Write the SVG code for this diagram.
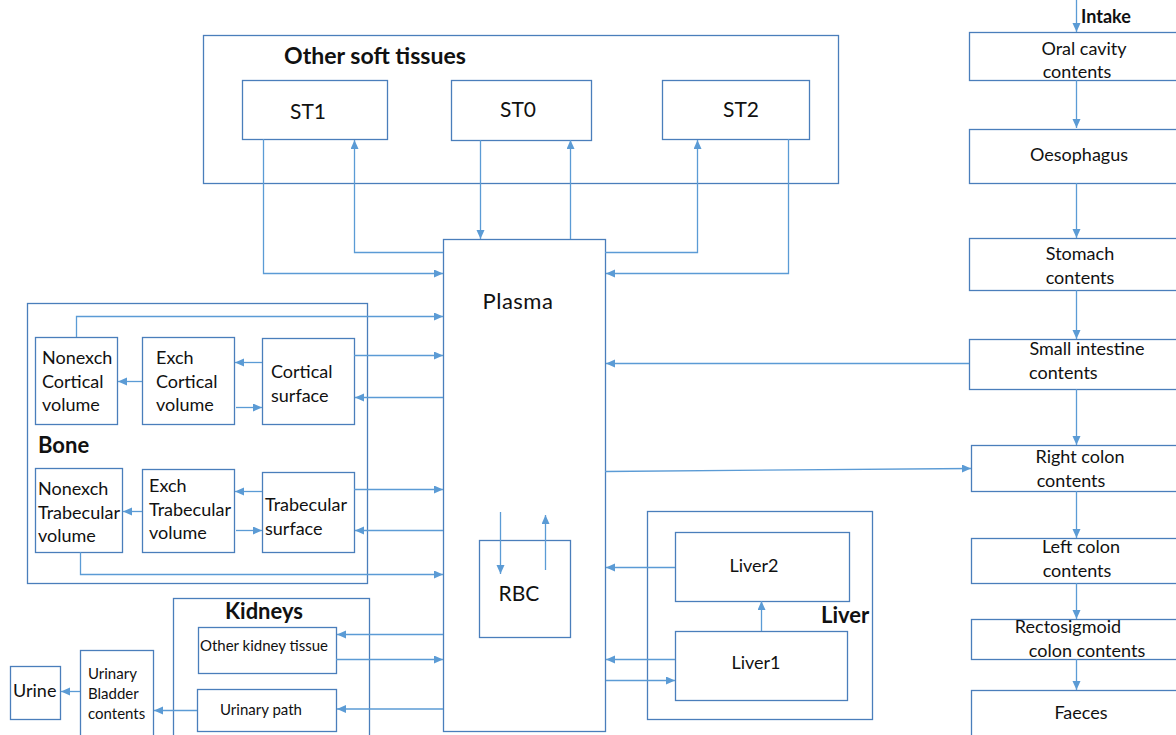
<svg xmlns="http://www.w3.org/2000/svg" width="1176" height="735" viewBox="0 0 1176 735">
<style>
.box{fill:#fff;stroke:#4a7ebb;stroke-width:1.3}
.grp{fill:none;stroke:#4a7ebb;stroke-width:1.3}
.c{fill:none;stroke:#5b9bd5;stroke-width:1.3;marker-end:url(#ah)}
text{font-family:Lato,"Liberation Sans",sans-serif;font-size:18px;fill:#111}
.b{font-weight:bold;font-size:22px}
.m{text-anchor:middle}
</style>
<defs>
<marker id="ah" markerUnits="userSpaceOnUse" markerWidth="10" markerHeight="10" refX="9" refY="4" orient="auto">
<path d="M0,0 L9,4 L0,8 Z" fill="#5b9bd5"/>
</marker>
</defs>
<rect width="1176" height="735" fill="#fff"/>

<g id="soft-tissues">
<rect class="grp" x="203.5" y="35.5" width="635" height="148"/>
<text class="b" x="284" y="64" textLength="182" lengthAdjust="spacingAndGlyphs">Other soft tissues</text>
</g>
<g id="st1"><rect class="box" x="242.5" y="80.5" width="145" height="59"/><text class="m" x="308" y="119" style="font-size:21px">ST1</text></g>
<g id="st0"><rect class="box" x="451.5" y="80.5" width="140" height="60"/><text class="m" x="518" y="117" style="font-size:21px">ST0</text></g>
<g id="st2"><rect class="box" x="662.5" y="80.5" width="147" height="59"/><text class="m" x="741" y="117" style="font-size:21px">ST2</text></g>

<g id="plasma"><rect class="box" x="443.5" y="239.5" width="162" height="492"/><text class="m" x="518" y="309" style="font-size:22px;letter-spacing:0.5px">Plasma</text></g>
<g id="rbc"><rect class="box" x="479.5" y="540.5" width="91" height="97"/><text class="m" x="519" y="601" style="font-size:21px">RBC</text></g>

<g id="bone">
<rect class="grp" x="27.5" y="303.5" width="340" height="280"/>
<text class="b" x="38" y="453">Bone</text>
</g>
<g id="nonexch-cortical"><rect class="box" x="35.5" y="337.5" width="82" height="87"/>
<text x="42" y="364">Nonexch</text><text x="42" y="388">Cortical</text><text x="42" y="411">volume</text></g>
<g id="exch-cortical"><rect class="box" x="142.5" y="337.5" width="92" height="87"/>
<text x="156" y="364">Exch</text><text x="156" y="388">Cortical</text><text x="156" y="411">volume</text></g>
<g id="cortical-surface"><rect class="box" x="262.5" y="338.5" width="92" height="86"/>
<text x="271" y="378">Cortical</text><text x="271" y="402">surface</text></g>
<g id="nonexch-trabecular"><rect class="box" x="35.5" y="468.5" width="87" height="84"/>
<text x="38" y="495">Nonexch</text><text x="38" y="519">Trabecular</text><text x="38" y="542">volume</text></g>
<g id="exch-trabecular"><rect class="box" x="142.5" y="469.5" width="92" height="83"/>
<text x="149" y="492">Exch</text><text x="149" y="516">Trabecular</text><text x="149" y="539">volume</text></g>
<g id="trabecular-surface"><rect class="box" x="262.5" y="472.5" width="92" height="80"/>
<text x="265" y="511">Trabecular</text><text x="265" y="535">surface</text></g>

<g id="kidneys">
<rect class="grp" x="173.5" y="598.5" width="196" height="140"/>
<text class="b m" x="264" y="619">Kidneys</text>
</g>
<g id="other-kidney"><rect class="box" x="198.5" y="627.5" width="138" height="46"/><text class="m" x="264" y="651" style="font-size:15px">Other kidney tissue</text></g>
<g id="urinary-path"><rect class="box" x="197.5" y="689.5" width="139" height="42"/><text class="m" x="261" y="715" style="font-size:15px">Urinary path</text></g>
<g id="bladder"><rect class="box" x="80.5" y="650.5" width="73" height="90"/>
<text x="88" y="679" style="font-size:15px">Urinary</text><text x="88" y="699" style="font-size:15px">Bladder</text><text x="88" y="719" style="font-size:15px">contents</text></g>
<g id="urine"><rect class="box" x="10.5" y="666.5" width="50" height="53"/><text x="13" y="697">Urine</text></g>

<g id="liver">
<rect class="grp" x="647.5" y="511.5" width="225" height="208"/>
<text class="b" x="821" y="623">Liver</text>
</g>
<g id="liver2"><rect class="box" x="675.5" y="532.5" width="174" height="69"/><text class="m" x="754" y="572">Liver2</text></g>
<g id="liver1"><rect class="box" x="675.5" y="631.5" width="172" height="69"/><text class="m" x="756" y="669">Liver1</text></g>

<g id="oral"><rect class="box" x="969.5" y="32.5" width="220" height="48"/><text class="m" x="1084" y="55">Oral cavity</text><text class="m" x="1077" y="78">contents</text></g>
<g id="oesophagus"><rect class="box" x="969.5" y="129.5" width="220" height="54"/><text class="m" x="1079" y="161">Oesophagus</text></g>
<g id="stomach"><rect class="box" x="969.5" y="238.5" width="220" height="52"/><text class="m" x="1080" y="260">Stomach</text><text class="m" x="1080" y="284">contents</text></g>
<g id="small-intestine"><rect class="box" x="969.5" y="339.5" width="220" height="50"/><text class="m" x="1087" y="355">Small intestine</text><text x="1029" y="379">contents</text></g>
<g id="right-colon"><rect class="box" x="971.5" y="445.5" width="220" height="46"/><text class="m" x="1080" y="463">Right colon</text><text class="m" x="1071" y="487">contents</text></g>
<g id="left-colon"><rect class="box" x="971.5" y="538.5" width="220" height="45"/><text class="m" x="1081" y="553">Left colon</text><text class="m" x="1077" y="577">contents</text></g>
<g id="rectosigmoid"><rect class="box" x="971.5" y="619.5" width="220" height="40"/><text class="m" x="1068" y="633">Rectosigmoid</text><text class="m" x="1087" y="657">colon contents</text></g>
<g id="faeces"><rect class="box" x="971.5" y="690.5" width="220" height="50"/><text class="m" x="1081" y="719">Faeces</text></g>
<text class="b" x="1081" y="23" style="font-size:18px">Intake</text>

<g id="connectors">
<path class="c" d="M263.5,139 V273.5 H443"/>
<path class="c" d="M443,252.5 H354.5 V140"/>
<path class="c" d="M480.5,140 V239"/>
<path class="c" d="M570.5,239 V140"/>
<path class="c" d="M605,252.5 H697.5 V140"/>
<path class="c" d="M788.5,139 V273.5 H606"/>

<path class="c" d="M76.5,337 V316.5 H443"/>
<path class="c" d="M354,355.5 H443"/>
<path class="c" d="M443,397.5 H355"/>
<path class="c" d="M262,362.5 H235"/>
<path class="c" d="M236,407.5 H262"/>
<path class="c" d="M142,381.5 H118"/>
<path class="c" d="M354,489.5 H443"/>
<path class="c" d="M443,530.5 H355"/>
<path class="c" d="M262,491.5 H235"/>
<path class="c" d="M236,530.5 H262"/>
<path class="c" d="M142,511.5 H123"/>
<path class="c" d="M80.5,552 V574.5 H443"/>

<path class="c" d="M443,634.5 H337"/>
<path class="c" d="M336,659.5 H443"/>
<path class="c" d="M443,709 H337"/>
<path class="c" d="M197,710.5 H154"/>
<path class="c" d="M80,691.5 H61"/>

<path class="c" d="M500.5,512 V574"/>
<path class="c" d="M545.5,570 V515"/>

<path class="c" d="M675,567.5 H606"/>
<path class="c" d="M675,659.5 H606"/>
<path class="c" d="M606,680.5 H675"/>
<path class="c" d="M761.5,631 V601"/>

<path class="c" d="M1076.5,0 V32"/>
<path class="c" d="M1076.5,80 V128"/>
<path class="c" d="M1076.5,183 V238"/>
<path class="c" d="M1076.5,290 V339"/>
<path class="c" d="M969,363.5 H606"/>
<path class="c" d="M1076.5,389 V445"/>
<path class="c" d="M605,471.5 L971,468.5"/>
<path class="c" d="M1076.5,491 V538"/>
<path class="c" d="M1076.5,583 V619"/>
<path class="c" d="M1076.5,659 V690"/>
</g>
</svg>
